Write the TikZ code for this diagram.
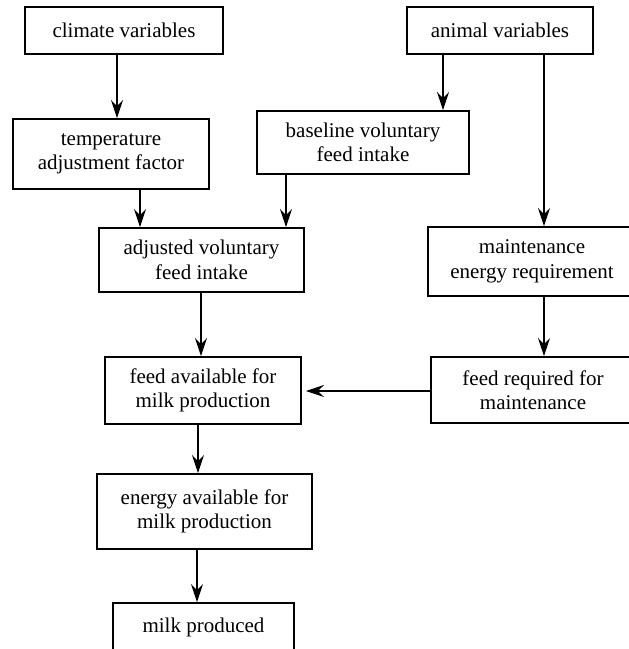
\documentclass[tikz,border=0pt]{standalone}
\usepackage{fontspec}
\setmainfont{Liberation Serif}
\usetikzlibrary{arrows.meta}
\begin{document}
\begin{tikzpicture}[x=1pt,y=-1pt,
  box/.style={draw, line width=1.9pt, align=center, inner sep=0pt,
    font=\fontsize{21}{24.5}\selectfont},
  arr/.style={line width=1.9pt, -{Stealth[length=18pt,width=12pt,inset=6pt]}}]
\useasboundingbox (0,0) rectangle (629,649);
\clip (0,0) rectangle (629,649);
\node[box, minimum width=198pt, minimum height=47pt] (clim) at (124,30.5) {climate variables};
\node[box, minimum width=196pt, minimum height=70pt] (temp) at (111,154) {temperature\\adjustment factor};
\node[box, minimum width=186pt, minimum height=47pt] (anim) at (500,30.5) {animal variables};
\node[box, minimum width=212pt, minimum height=63pt] (base) at (363,142.5) {baseline voluntary\\feed intake};
\node[box, minimum width=205pt, minimum height=64pt] (adj) at (201.5,260) {adjusted voluntary\\feed intake};
\node[box, minimum width=208pt, minimum height=69pt] (maint) at (532,261.5) {maintenance\\energy requirement};
\node[box, minimum width=204pt, minimum height=66pt] (freq) at (533,390) {feed required for\\maintenance};
\node[box, minimum width=196pt, minimum height=67pt] (favail) at (203,390.5) {feed available for\\milk production};
\node[box, minimum width=215pt, minimum height=75pt] (energy) at (204.5,511.5) {energy available for\\milk production};
\node[box, minimum width=181pt, minimum height=48pt] (milk) at (203.5,627) {milk produced};
\draw[arr] (117,0 |- clim.south) -- (117,0 |- temp.north);
\draw[arr] (140,0 |- temp.south) -- (140,0 |- adj.north);
\draw[arr] (286,0 |- base.south) -- (286,0 |- adj.north);
\draw[arr] (443,0 |- anim.south) -- (443,0 |- base.north);
\draw[arr] (544,0 |- anim.south) -- (544,0 |- maint.north);
\draw[arr] (544,0 |- maint.south) -- (544,0 |- freq.north);
\draw[arr] (0,391 -| freq.west) -- ([xshift=4pt]0,391 -| favail.east);
\draw[arr] (201,0 |- adj.south) -- (201,0 |- favail.north);
\draw[arr] (198,0 |- favail.south) -- (198,0 |- energy.north);
\draw[arr] (197,0 |- energy.south) -- (197,0 |- milk.north);
\end{tikzpicture}
\end{document}
